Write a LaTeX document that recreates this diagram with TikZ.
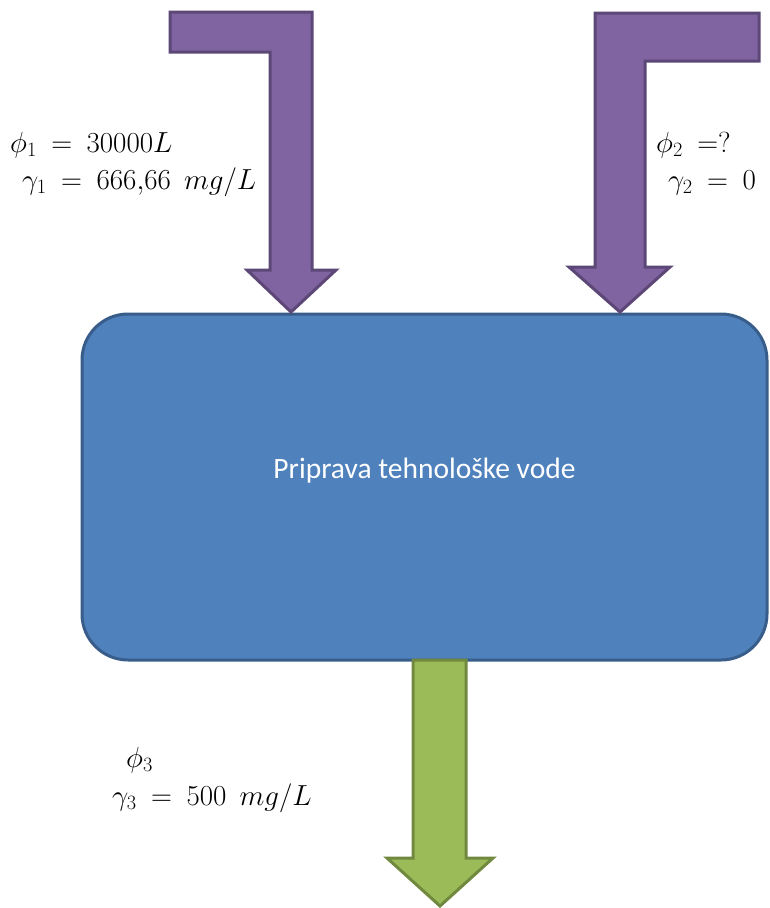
\RequirePackage{fix-cm}
\documentclass[tikz,border=0pt]{standalone}
\usepackage{amsmath,amssymb}
\usepackage{fontspec}
\setmainfont{Carlito}
\usepackage{xcolor}
\usetikzlibrary{positioning}
\definecolor{tankblue}{RGB}{79, 129, 189}
\definecolor{tankedge}{RGB}{56, 93, 138}
\definecolor{inpurple}{RGB}{128, 100, 162}
\definecolor{inedge}{RGB}{92, 71, 118}
\definecolor{outgreen}{RGB}{155, 187, 89}
\definecolor{outedge}{RGB}{113, 137, 63}

\begin{document}
\begin{tikzpicture}[
    x=1pt, y=-1pt,
    tank/.style={rectangle, rounded corners=46pt, draw=tankedge, fill=tankblue, line width=3pt, minimum width=685pt, minimum height=346pt},
    tanktext/.style={text=white, font=\fontsize{29.5}{34}\selectfont},
    inflow/.style={draw=inedge, fill=inpurple, line width=3pt, line join=miter},
    outflow/.style={draw=outedge, fill=outgreen, line width=3pt, line join=miter},
    flowlabel/.style={anchor=base west, inner sep=0pt, font={\fontsize{29}{34}\selectfont\thickmuskip=9mu\relax}}
]
\useasboundingbox (0,0) rectangle (769,908);

% Tank
\node[tank] (tank) at (424.5,487) {};
\node[tanktext] (caption) at ([yshift=16pt]tank.center) {Priprava tehnološke vode};

% Inflow 1 (bent arrow, left)
\draw[inflow] (170,12) -- (312,12) -- (312,270) -- (336,270) -- (291,312)
  -- (247,270) -- (270,270) -- (270,52) -- (170,52) -- cycle;

% Inflow 2 (bent arrow, right)
\draw[inflow] (759,13) -- (759,61) -- (645,61) -- (645,267) -- (670,267)
  -- (620,312) -- (569,267) -- (595,267) -- (595,13) -- cycle;

% Outflow (green arrow)
\draw[outflow] (413,660) -- (466,660) -- (466,858) -- (493,858) -- (440,906)
  -- (387,858) -- (413,858) -- cycle;

% Labels
\node[flowlabel] (phi1) at (10,152) {$\phi_1 = 30000L$};
\node[flowlabel] (gam1) at (22,189) {$\gamma_1 = 666{,}66\ \ mg/L$};
\node[flowlabel] (phi2) at (656,152) {$\phi_2 =?$};
\node[flowlabel] (gam2) at (668,189) {$\gamma_2 = 0$};
\node[flowlabel] (phi3) at (126,767) {$\phi_3$};
\node[flowlabel] (gam3) at (112,805) {$\gamma_3 = 500\ \ mg/L$};
\end{tikzpicture}
\end{document}
